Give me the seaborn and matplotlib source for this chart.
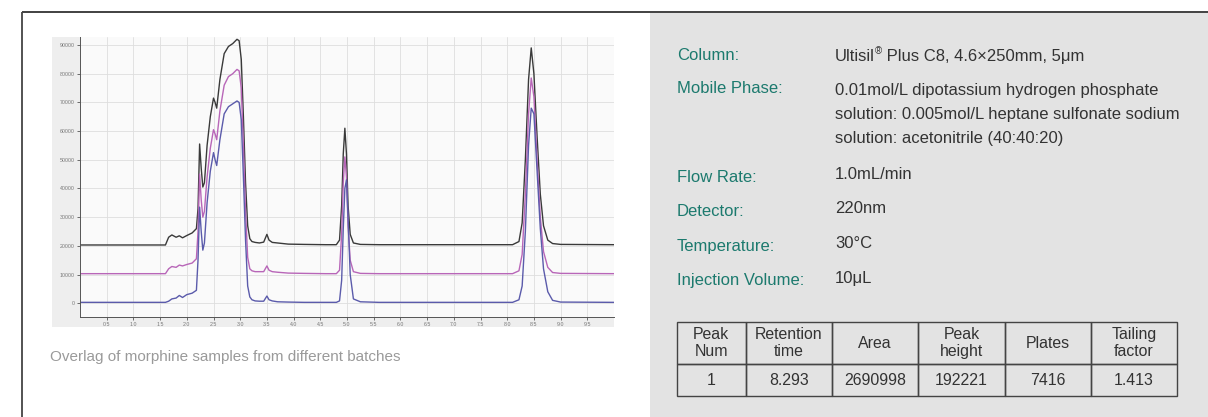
import numpy as np
import pandas as pd
import matplotlib.pyplot as plt
from matplotlib.patches import Rectangle
from matplotlib.ticker import MultipleLocator
import seaborn as sns

# retention time (min) and detector response
time = [0.0, 1.60, 1.66, 1.72, 1.80, 1.86, 1.92, 2.00, 2.10, 2.18, 2.21, 2.24, 2.27,
        2.30, 2.33, 2.38, 2.44, 2.50, 2.53, 2.56, 2.62, 2.70, 2.78, 2.86, 2.94, 2.98,
        3.02, 3.06, 3.10, 3.14, 3.18, 3.22, 3.28, 3.36, 3.44, 3.50, 3.54, 3.60, 3.70,
        3.90, 4.20, 4.60, 4.80, 4.86, 4.90, 4.93, 4.96, 4.99, 5.02, 5.06, 5.12, 5.25,
        5.60, 8.10, 8.22, 8.28, 8.34, 8.40, 8.45, 8.50, 8.56, 8.62, 8.68, 8.76, 8.85,
        9.00, 10.0]

batch_1 = [20300, 20300, 23000, 23800, 23000, 23500, 22800, 23600, 24500, 26000, 33000, 55500, 47000,
           40500, 42000, 55000, 65000, 71500, 70000, 68000, 78000, 87000, 89500, 90500, 92000, 91500,
           85000, 65000, 42000, 27000, 22500, 21500, 21200, 21000, 21300, 24000, 22000, 21200, 21000,
           20600, 20500, 20400, 20400, 22000, 34000, 52000, 61000, 52000, 34000, 24000, 21000, 20500,
           20400, 20400, 21500, 28000, 50000, 78000, 89000, 80000, 58000, 38000, 27000, 22000, 20800,
           20500, 20400]

batch_2 = [10300, 10300, 12000, 12800, 12500, 13300, 13000, 13500, 14000, 15500, 25000, 45000, 36000,
           30000, 32000, 44000, 54000, 60500, 59000, 57000, 67000, 76000, 79000, 80000, 81500, 81000,
           75000, 55000, 32000, 16000, 12000, 11300, 11000, 11000, 11000, 13000, 11500, 11000, 10800,
           10500, 10400, 10300, 10300, 11500, 24000, 42000, 51000, 44000, 27000, 15000, 11000, 10400,
           10300, 10300, 11300, 17000, 38000, 66000, 78500, 72000, 50000, 30000, 18000, 12500, 10700,
           10400, 10300]

batch_3 = [300, 300, 700, 1500, 1800, 2700, 2000, 3000, 3500, 4500, 15000, 33500, 25000,
           18500, 21000, 35000, 46000, 52500, 50000, 48000, 57000, 66000, 68500, 69500, 70500, 70000,
           64000, 44000, 22000, 6000, 2200, 1200, 800, 700, 700, 2500, 1200, 800, 500,
           400, 300, 300, 300, 800, 8000, 26000, 40000, 43000, 30000, 10000, 1500, 500,
           300, 300, 1200, 6000, 25000, 55000, 68000, 66000, 46000, 26000, 12000, 4000, 1000,
           400, 300]

batches = ["batch 1", "batch 2", "batch 3"]
line_colors = ["#3a3a3a", "#b866b8", "#5b5bab"]

y_ticks = [0, 10000, 20000, 30000, 40000, 50000, 60000, 70000, 80000, 90000]
x_ticks = [0.5, 1.0, 1.5, 2.0, 2.5, 3.0, 3.5, 4.0, 4.5, 5.0, 5.5, 6.0, 6.5, 7.0, 7.5, 8.0, 8.5, 9.0, 9.5]

caption = "Overlag of morphine samples from different batches"

cond_labels = ["Column:", "Mobile Phase:", "Flow Rate:", "Detector:", "Temperature:", "Injection Volume:"]
cond_values = [
    "Ultisil|® Plus C8, 4.6×250mm, 5μm",
    "0.01mol/L dipotassium hydrogen phosphate\nsolution: 0.005mol/L heptane sulfonate sodium\nsolution: acetonitrile (40:40:20)",
    "1.0mL/min",
    "220nm",
    "30°C",
    "10μL",
]

table_header = ["Peak\nNum", "Retention\ntime", "Area", "Peak\nheight", "Plates", "Tailing\nfactor"]
table_row = ["1", "8.293", "2690998", "192221", "7416", "1.413"]

df = pd.DataFrame({
    "time": time * 3,
    "signal": batch_1 + batch_2 + batch_3,
    "batch": [b for b in batches for _ in time],
})

sns.set_style("white")
plt.rcParams["font.family"] = ["Liberation Sans", "DejaVu Sans"]

W, H = 1208, 417
fig = plt.figure(figsize=(W / 100, H / 100), dpi=100)
fig.patch.set_facecolor("white")

# background layer in pixel coordinates
bg = fig.add_axes([0, 0, 1, 1], zorder=0)
bg.set_xlim(0, W)
bg.set_ylim(H, 0)
bg.axis("off")
bg.add_patch(Rectangle((650, 13), W - 650, H - 13, color="#e3e3e3", lw=0))
bg.add_patch(Rectangle((52, 37), 562, 290, color="#eeeeee", lw=0))
bg.plot([22, W], [12, 12], color="#333333", lw=1.3, solid_capstyle="butt")
bg.plot([22, 22], [12, H], color="#444444", lw=1.3, solid_capstyle="butt")

bg.text(50, 357, caption, fontsize=11, color="#9a9a9a", va="center", ha="left")

# experimental conditions
label_y = [55, 88.5, 177, 211.5, 246.5, 281]
value_y = [56, 90, 174, 208.5, 243.5, 278.5]
teal = "#1c7a6e"
for lab, val, ly, vy in zip(cond_labels, cond_values, label_y, value_y):
    bg.text(677, ly, lab, fontsize=12, color=teal, va="center", ha="left")
    for i, line in enumerate(val.split("\n")):
        if "|" in line:
            head, tail = line.split("|")
            t1 = bg.text(835, vy, head, fontsize=12, color="#333333", va="center", ha="left")
            fig.canvas.draw()
            bb = t1.get_window_extent().transformed(bg.transData.inverted())
            t2 = bg.text(bb.x1 + 0.3, vy - 4.5, tail[0], fontsize=7, color="#333333", va="center", ha="left")
            fig.canvas.draw()
            bb2 = t2.get_window_extent().transformed(bg.transData.inverted())
            bg.text(bb2.x1, vy, tail[1:], fontsize=12, color="#333333", va="center", ha="left")
        else:
            bg.text(835, vy + i * 24.2, line, fontsize=12, color="#333333", va="center", ha="left")

# results table
col_w = [69, 86, 86, 86, 86, 86]
tb = bg.table(cellText=[table_row], colLabels=table_header, cellLoc="center",
              bbox=[676.7 / W, (H - 396) / H, (1177 - 676.7) / W, (396 - 322.3) / H])
tb.set_zorder(5)
tb.auto_set_font_size(False)
for (r, c), cell in tb.get_celld().items():
    cell.set_width(col_w[c])
    cell.set_height(42 if r == 0 else 32)
    cell.set_facecolor("none")
    cell.set_edgecolor("#444444")
    cell.set_linewidth(1.0)
    cell.get_text().set_fontsize(11.4)
    cell.get_text().set_color("#333333")
    cell.get_text().set_linespacing(1.12)

# chromatogram
ax = fig.add_axes([80 / W, (H - 316.7) / H, 534 / W, (316.7 - 37) / H], zorder=1)
ax.set_facecolor("#fafafa")
sns.lineplot(data=df, x="time", y="signal", hue="batch", palette=dict(zip(batches, line_colors)),
             estimator=None, sort=False, lw=1.0, legend=False, ax=ax)
ax.set_xlim(0, 10)
ax.set_ylim(-4700, 92800)
ax.set_xticks(x_ticks)
ax.set_xticklabels([f"{v:.1f}" for v in x_ticks])
ax.set_yticks(y_ticks)
ax.set_yticklabels([str(v) for v in y_ticks])
ax.xaxis.set_minor_locator(MultipleLocator(0.1))
ax.yaxis.set_minor_locator(MultipleLocator(2000))
ax.grid(True, which="major", color="#dedede", lw=0.6)
ax.set_axisbelow(True)
ax.tick_params(which="major", direction="out", length=2.5, width=0.6, color="#555555",
               labelsize=3.8, labelcolor="#777777", pad=1.5)
ax.tick_params(which="minor", direction="out", length=1.3, width=0.5, color="#666666")
ax.tick_params(axis="both", left=True, bottom=True)
ax.set_xlabel("")
ax.set_ylabel("")
for side in ["top", "right"]:
    ax.spines[side].set_visible(False)
for side in ["left", "bottom"]:
    ax.spines[side].set_color("#555555")
    ax.spines[side].set_linewidth(0.7)

fig.savefig("out.png", dpi=100)
